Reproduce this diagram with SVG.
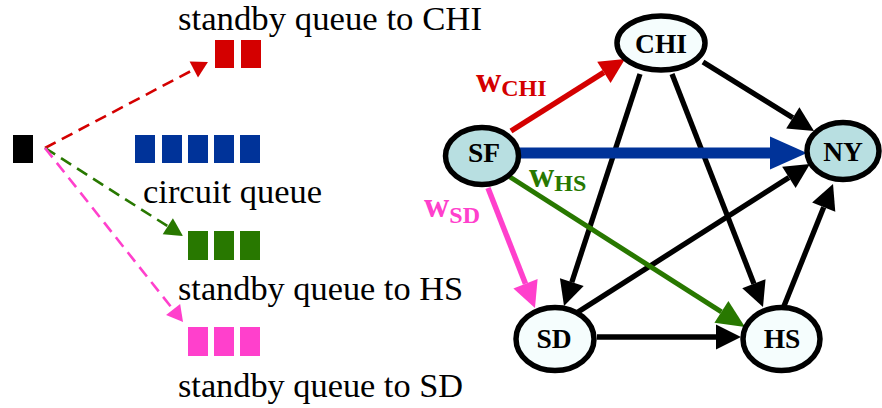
<svg xmlns="http://www.w3.org/2000/svg" width="882" height="408" viewBox="0 0 882 408">
  <style>
    .lbl { font-family: "Liberation Serif", "Times New Roman", serif; font-size: 34.5px; fill: #000; }
    .node ellipse { stroke: #000; stroke-width: 5.5; }
    .node text { font-family: "Liberation Serif", "Times New Roman", serif; font-size: 27.5px; font-weight: bold; text-anchor: middle; fill: #000; }
    .wt { font-family: "Liberation Serif", "Times New Roman", serif; font-weight: bold; }
    .edge { fill: none; stroke-linecap: butt; }
    .dash { fill: none; stroke-width: 2.6; stroke-dasharray: 12 7; }
  </style>
  <defs>
    <marker id="ah-black" markerUnits="userSpaceOnUse" orient="auto" markerWidth="40" markerHeight="40" refX="0" refY="0" viewBox="-1 -20 40 40" overflow="visible">
      <path d="M0,-12.5 L25,0 L0,12.5 z" fill="#000"/>
    </marker>
    <marker id="ah-blue" markerUnits="userSpaceOnUse" orient="auto" markerWidth="50" markerHeight="50" refX="0" refY="0" viewBox="-1 -25 50 50" overflow="visible">
      <path d="M0,-16.5 L37,0 L0,16.5 z" fill="#003399"/>
    </marker>
    <marker id="ah-red" markerUnits="userSpaceOnUse" orient="auto" markerWidth="40" markerHeight="40" refX="0" refY="0" viewBox="-1 -20 40 40" overflow="visible">
      <path d="M0,-12.5 L25,0 L0,12.5 z" fill="#d40000"/>
    </marker>
    <marker id="ah-green" markerUnits="userSpaceOnUse" orient="auto" markerWidth="40" markerHeight="40" refX="0" refY="0" viewBox="-1 -20 40 40" overflow="visible">
      <path d="M0,-13 L28,0 L0,13 z" fill="#287800"/>
    </marker>
    <marker id="ah-pink" markerUnits="userSpaceOnUse" orient="auto" markerWidth="40" markerHeight="40" refX="0" refY="0" viewBox="-1 -20 40 40" overflow="visible">
      <path d="M0,-13 L26,0 L0,13 z" fill="#ff40cc"/>
    </marker>
    <marker id="sh-red" markerUnits="userSpaceOnUse" orient="auto" markerWidth="30" markerHeight="30" refX="0" refY="0" viewBox="-1 -15 30 30" overflow="visible">
      <path d="M0,-9 L16,0 L0,9 z" fill="#d40000" stroke="none"/>
    </marker>
    <marker id="sh-green" markerUnits="userSpaceOnUse" orient="auto" markerWidth="30" markerHeight="30" refX="0" refY="0" viewBox="-1 -15 30 30" overflow="visible">
      <path d="M0,-9.5 L18,0 L0,9.5 z" fill="#287800" stroke="none"/>
    </marker>
    <marker id="sh-pink" markerUnits="userSpaceOnUse" orient="auto" markerWidth="30" markerHeight="30" refX="0" refY="0" viewBox="-1 -15 30 30" overflow="visible">
      <path d="M0,-9 L16,0 L0,9 z" fill="#ff40cc" stroke="none"/>
    </marker>
  </defs>

  <rect width="882" height="408" fill="#fff"/>

  <!-- queues -->
  <g id="incoming">
    <rect x="13" y="135" width="20" height="28" fill="#000"/>
  </g>
  <g id="queue-chi" fill="#d40000">
    <rect x="215" y="40" width="19" height="28"/>
    <rect x="241" y="40" width="20" height="28"/>
  </g>
  <g id="queue-circuit" fill="#003399">
    <rect x="135" y="135" width="20" height="28"/>
    <rect x="162" y="135" width="20" height="28"/>
    <rect x="188" y="135" width="20" height="28"/>
    <rect x="214" y="135" width="20" height="28"/>
    <rect x="240" y="135" width="20" height="28"/>
  </g>
  <g id="queue-hs" fill="#287800">
    <rect x="188" y="231" width="20" height="29"/>
    <rect x="214" y="231" width="20" height="29"/>
    <rect x="240" y="231" width="20" height="29"/>
  </g>
  <g id="queue-sd" fill="#ff40cc">
    <rect x="188" y="327" width="20" height="29"/>
    <rect x="214" y="327" width="20" height="29"/>
    <rect x="240" y="327" width="20" height="29"/>
  </g>

  <g id="queue-labels">
    <text class="lbl" x="178" y="30" textLength="304" lengthAdjust="spacingAndGlyphs">standby queue to CHI</text>
    <text class="lbl" x="143" y="203" textLength="179" lengthAdjust="spacingAndGlyphs">circuit queue</text>
    <text class="lbl" x="178" y="300" textLength="285" lengthAdjust="spacingAndGlyphs">standby queue to HS</text>
    <text class="lbl" x="178" y="397" textLength="285" lengthAdjust="spacingAndGlyphs">standby queue to SD</text>
  </g>

  <!-- dispatch to standby queues -->
  <g id="dispatch">
    <line class="dash" x1="45" y1="148" x2="193.8" y2="69.5" stroke="#d40000" marker-end="url(#sh-red)"/>
    <line class="dash" x1="45" y1="148" x2="167.8" y2="226.3" stroke="#287800" marker-end="url(#sh-green)"/>
    <line class="dash" x1="45" y1="148" x2="173.1" y2="309.5" stroke="#ff40cc" marker-end="url(#sh-pink)"/>
  </g>

  <!-- network edges -->
  <g id="connectors">
    <line class="edge" x1="703" y1="62" x2="792.8" y2="117.8" stroke="#000" stroke-width="5.3" marker-end="url(#ah-black)"/>
    <line class="edge" x1="640" y1="74" x2="571.8" y2="282.2" stroke="#000" stroke-width="5.3" marker-end="url(#ah-black)"/>
    <line class="edge" x1="672" y1="74" x2="753.9" y2="283.7" stroke="#000" stroke-width="5.3" marker-end="url(#ah-black)"/>
    <line class="edge" x1="578" y1="312" x2="788.9" y2="177.4" stroke="#000" stroke-width="5.3" marker-end="url(#ah-black)"/>
    <line class="edge" x1="597" y1="337" x2="716" y2="337" stroke="#000" stroke-width="5.3" marker-end="url(#ah-black)"/>
    <line class="edge" x1="784" y1="306" x2="823.7" y2="207.2" stroke="#000" stroke-width="5.3" marker-end="url(#ah-black)"/>
    <line class="edge" x1="511" y1="131" x2="603.9" y2="72.4" stroke="#d40000" stroke-width="5.5" marker-end="url(#ah-red)"/>
    <line class="edge" x1="510" y1="177" x2="721.4" y2="311.9" stroke="#287800" stroke-width="5" marker-end="url(#ah-green)"/>
    <line class="edge" x1="488" y1="188" x2="525.5" y2="283.8" stroke="#ff40cc" stroke-width="5.5" marker-end="url(#ah-pink)"/>
    <line class="edge" x1="519" y1="153" x2="770" y2="153" stroke="#003399" stroke-width="11" marker-end="url(#ah-blue)"/>
  </g>

  <!-- edge weights -->
  <g id="weights">
    <text class="wt" x="476" y="92" fill="#d40000" font-size="35">w<tspan font-size="24" dy="4">CHI</tspan></text>
    <text class="wt" x="529" y="187" fill="#287800" font-size="35">w<tspan font-size="24" dy="4">HS</tspan></text>
    <text class="wt" x="424" y="217" fill="#ff40cc" font-size="35">w<tspan font-size="24" dy="6">SD</tspan></text>
  </g>

  <!-- nodes -->
  <g id="CHI" class="node">
    <ellipse cx="661" cy="43" rx="44" ry="27" fill="#f5fdfd"/>
    <text x="661" y="53">CHI</text>
  </g>
  <g id="SF" class="node">
    <ellipse cx="482" cy="156" rx="36.5" ry="28.5" fill="#b8dfe1"/>
    <text x="484" y="162">SF</text>
  </g>
  <g id="NY" class="node">
    <ellipse cx="843" cy="151" rx="36" ry="28.5" fill="#b8dfe1"/>
    <text x="843" y="161">NY</text>
  </g>
  <g id="SD" class="node">
    <ellipse cx="555" cy="339" rx="39" ry="31.5" fill="#f5fdfd"/>
    <text x="554" y="348">SD</text>
  </g>
  <g id="HS" class="node">
    <ellipse cx="781.5" cy="339" rx="38.5" ry="31.5" fill="#f5fdfd"/>
    <text x="782" y="348">HS</text>
  </g>
</svg>
